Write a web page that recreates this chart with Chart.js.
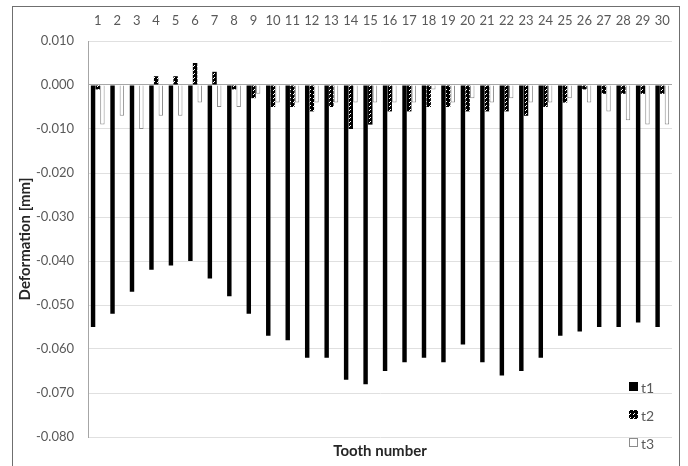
<!DOCTYPE html>
<html>
<head>
<meta charset="utf-8">
<script src="https://cdn.jsdelivr.net/npm/chart.js@4.4.1/dist/chart.umd.min.js"></script>
<style>
  html, body { margin: 0; padding: 0; background: #fff; }
  canvas { display: block; }
</style>
</head>
<body>
<canvas id="myChart" width="688" height="466"></canvas>
<script>
const categories = ['1','2','3','4','5','6','7','8','9','10','11','12','13','14','15',
                    '16','17','18','19','20','21','22','23','24','25','26','27','28','29','30'];
const seriesNames = ['t1', 't2', 't3'];
const t1 = [-0.055, -0.052, -0.047, -0.042, -0.041, -0.040, -0.044, -0.048, -0.052, -0.057,
            -0.058, -0.062, -0.062, -0.067, -0.068, -0.065, -0.063, -0.062, -0.063, -0.059,
            -0.063, -0.066, -0.065, -0.062, -0.057, -0.056, -0.055, -0.055, -0.054, -0.055];
const t2 = [-0.001, 0.000, 0.000, 0.002, 0.002, 0.005, 0.003, -0.001, -0.003, -0.005,
            -0.005, -0.006, -0.005, -0.010, -0.009, -0.006, -0.006, -0.005, -0.005, -0.006,
            -0.006, -0.006, -0.007, -0.005, -0.004, -0.001, -0.002, -0.002, -0.002, -0.002];
const t3 = [-0.009, -0.007, -0.010, -0.007, -0.007, -0.004, -0.005, -0.005, -0.002, -0.004,
            -0.004, -0.004, -0.004, -0.004, -0.004, -0.004, -0.004, -0.001, -0.004, -0.003,
            -0.004, -0.003, -0.004, -0.004, -0.003, -0.004, -0.006, -0.008, -0.009, -0.009];
const yTicks = [0.010, 0.000, -0.010, -0.020, -0.030, -0.040, -0.050, -0.060, -0.070, -0.080];

// black with white diagonal dashes for t2
function hatch() {
  const c = document.createElement('canvas');
  c.width = 4; c.height = 4;
  const g = c.getContext('2d');
  g.fillStyle = '#000';
  g.fillRect(0, 0, 4, 4);
  g.fillStyle = '#fff';
  g.fillRect(1, 2, 1, 1);
  g.fillRect(2, 1, 1, 1);
  return g.createPattern(c, 'repeat');
}
const hatchFill = hatch();

const frame = {
  id: 'frame',
  beforeDraw(chart) {
    const c = chart.ctx;
    c.save();
    c.fillStyle = '#fff';
    c.fillRect(0, 0, chart.width, chart.height);
    c.strokeStyle = '#6f6f6f';
    c.lineWidth = 1;
    c.strokeRect(12.5, 6.5, 667, 480);
    c.restore();
  }
};

const sideLegend = {
  id: 'sideLegend',
  afterDraw(chart) {
    const c = chart.ctx;
    c.save();
    c.font = '14px Lato';
    c.textBaseline = 'middle';
    chart.data.datasets.forEach((ds, i) => {
      const y = 387 + i * 28;
      c.fillStyle = ds.backgroundColor;
      c.fillRect(629, y - 5, 9, 9);
      if (ds.borderWidth) {
        c.strokeStyle = ds.borderColor;
        c.lineWidth = 1;
        c.strokeRect(629.5, y - 4.5, 8, 8);
      }
      c.fillStyle = '#595959';
      c.fillText(ds.label, 641, y + 1);
    });
    c.restore();
  }
};

const ctx = document.getElementById('myChart');
new Chart(ctx, {
  type: 'bar',
  data: {
    labels: categories,
    datasets: [
      { label: seriesNames[0], data: t1, backgroundColor: '#000000', borderWidth: 0 },
      { label: seriesNames[1], data: t2, backgroundColor: hatchFill, borderWidth: 0 },
      { label: seriesNames[2], data: t3, backgroundColor: '#ffffff', borderColor: '#8c8c8c', borderWidth: 1 }
    ]
  },
  options: {
    responsive: false,
    animation: false,
    categoryPercentage: 0.72,
    barPercentage: 0.95,
    layout: { padding: { top: 0, right: 16, bottom: 0, left: 0 } },
    plugins: {
      legend: { display: false },
      tooltip: { enabled: false },
      title: {
        display: true,
        text: 'Tooth number',
        position: 'bottom',
        fullSize: false,
        color: '#262626',
        font: { family: 'Lato', size: 15, weight: 'bold' },
        padding: { top: 5, bottom: 6 }
      }
    },
    scales: {
      x: {
        position: 'top',
        afterFit: s => { s.height = 41; },
        grid: { display: false, drawTicks: false },
        border: { display: false },
        ticks: {
          padding: 12,
          color: '#595959',
          font: { family: 'Lato', size: 13 },
          maxRotation: 0,
          autoSkip: false
        }
      },
      y: {
        min: -0.08,
        max: 0.01,
        afterBuildTicks: s => { s.ticks = yTicks.map(v => ({ value: v })); },
        afterFit: s => { s.width = 88; },
        grid: {
          drawTicks: false,
          color: c => (c.tick && c.tick.value === 0 ? '#a6a6a6' : '#e0e0e0')
        },
        border: { display: true, color: '#a6a6a6' },
        ticks: {
          padding: 14,
          color: '#595959',
          font: { family: 'Lato', size: 13 },
          callback: v => v.toFixed(3)
        },
        title: {
          display: true,
          text: 'Deformation [mm]',
          color: '#262626',
          font: { family: 'Lato', size: 15, weight: 'bold' },
          padding: { top: 16, bottom: 0 }
        }
      }
    }
  },
  plugins: [frame, sideLegend]
});
</script>
</body>
</html>
